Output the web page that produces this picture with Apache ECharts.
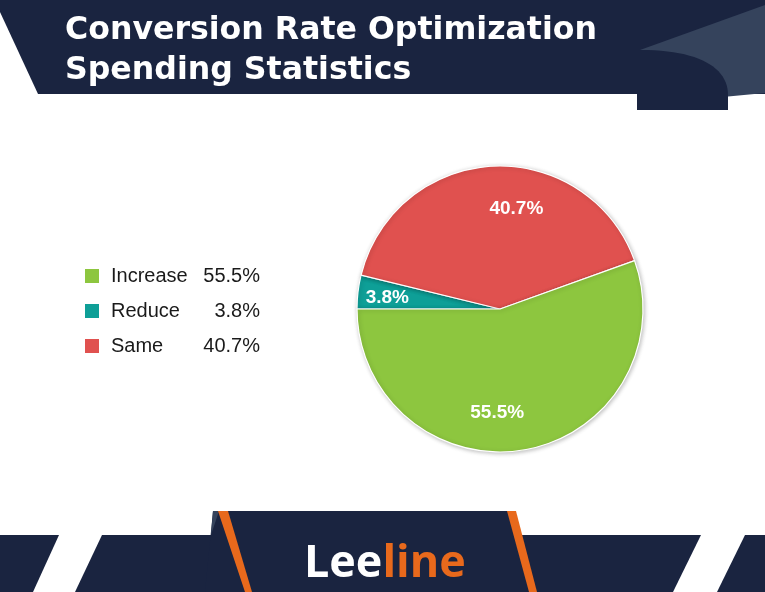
<!DOCTYPE html>
<html>
<head>
<meta charset="utf-8">
<script src="https://cdn.jsdelivr.net/npm/echarts@6/dist/echarts.min.js"></script>
<style>
html,body{margin:0;padding:0;background:#fff;}
#chart{width:765px;height:592px;}
</style>
</head>
<body>
<div id="chart"></div>
<script>
// ---- data ----
const titleLines = ['Conversion Rate Optimization', 'Spending Statistics'];
const categories = ['Increase', 'Reduce', 'Same'];
const values = [55.5, 3.8, 40.7];
const brandWhite = 'Lee';
const brandOrange = 'line';

// ---- style ----
const colors = {Increase: '#8DC63F', Reduce: '#0E9F97', Same: '#E0514F'};
const NAVY = '#1A2440';
const SLATE = '#35435C';
const ORANGE = '#E8691C';
const pieOrder = ['Reduce', 'Same', 'Increase'];
const labelNudge = {Increase: [-21, 0], Same: [22, 5], Reduce: [2, 3]};
const PIE_CX = 500, PIE_CY = 309, PIE_R = 143;

const pieData = pieOrder.map(n => ({
  name: n,
  value: values[categories.indexOf(n)],
  itemStyle: {color: colors[n]}
}));

// decorative curved header tab (cubic bezier sampled into a polygon)
function bezierPts(p0, p1, p2, p3, steps) {
  const pts = [];
  for (let i = 0; i <= steps; i++) {
    const t = i / steps, u = 1 - t;
    pts.push([
      u*u*u*p0[0] + 3*u*u*t*p1[0] + 3*u*t*t*p2[0] + t*t*t*p3[0],
      u*u*u*p0[1] + 3*u*u*t*p1[1] + 3*u*t*t*p2[1] + t*t*t*p3[1]
    ]);
  }
  return pts;
}
const tabPts = [[637, 50]].concat(bezierPts([640, 50], [700, 50], [728, 68], [728, 95], 24)).concat([[728, 110], [637, 110]]);

const chart = echarts.init(document.getElementById('chart'), null, {renderer: 'canvas'});

const option = {
  backgroundColor: '#ffffff',
  animation: false,
  legend: {
    orient: 'vertical',
    left: 83,
    top: 266,
    padding: 0,
    data: categories,
    icon: 'rect',
    itemWidth: 16,
    itemHeight: 16,
    itemGap: 15,
    selectedMode: false,
    formatter: function (name) {
      const v = values[categories.indexOf(name)];
      return '{n|' + name + '}{v|' + v.toFixed(1) + '%}';
    },
    textStyle: {
      padding: [0, 0, 0, 6],
      rich: {
        n: {fontFamily: 'Liberation Sans, Arial, sans-serif', fontSize: 20, color: '#1a1a1a', width: 92, lineHeight: 22},
        v: {fontFamily: 'Liberation Sans, Arial, sans-serif', fontSize: 20, color: '#1a1a1a', width: 57, align: 'right', lineHeight: 22}
      }
    }
  },
  series: [{
    type: 'pie',
    center: [PIE_CX, PIE_CY],
    radius: [0, PIE_R],
    startAngle: 180,
    clockwise: true,
    silent: true,
    data: pieData,
    itemStyle: {
      borderColor: '#ffffff',
      borderWidth: 1.2,
      shadowBlur: 4,
      shadowColor: 'rgba(0,0,0,0.25)',
      shadowOffsetX: 1,
      shadowOffsetY: 1
    },
    label: {
      show: true,
      position: 'inside',
      formatter: p => p.value.toFixed(1) + '%',
      color: '#ffffff',
      fontFamily: 'Liberation Sans, Arial, sans-serif',
      fontWeight: 'bold',
      fontSize: 19
    },
    labelLine: {show: false},
    labelLayout: function (params) {
      const r = params.labelRect;
      const cx = r.x + r.width / 2;
      const cy = r.y + r.height / 2;
      const name = pieOrder[params.dataIndex];
      const v = values[categories.indexOf(name)];
      const k = v < 10 ? 1.55 : 1.42;
      const nudge = labelNudge[name];
      return {dx: (k - 1) * (cx - PIE_CX) + nudge[0], dy: (k - 1) * (cy - PIE_CY) + nudge[1]};
    }
  }],
  graphic: [
    // header
    {type: 'polygon', z: 1, shape: {points: [[0, 0], [765, 0], [765, 94], [38, 94], [0, 12]]}, style: {fill: NAVY}},
    {type: 'polygon', z: 2, shape: {points: [[640, 50], [765, 5], [765, 93], [728, 96.5], [640, 96.5]]}, style: {fill: SLATE}},
    {type: 'polygon', z: 3, shape: {points: tabPts}, style: {fill: NAVY}},
    {type: 'text', z: 4, x: 65, y: 31, style: {text: titleLines[0], fill: '#fff', verticalAlign: 'middle', font: 'bold 31.6px "DejaVu Sans", Verdana, sans-serif'}},
    {type: 'text', z: 4, x: 65, y: 70.5, style: {text: titleLines[1], fill: '#fff', verticalAlign: 'middle', font: 'bold 31.6px "DejaVu Sans", Verdana, sans-serif'}},
    // footer
    {type: 'polygon', z: 1, shape: {points: [[0, 535], [59, 535], [33, 592], [0, 592]]}, style: {fill: NAVY}},
    {type: 'polygon', z: 1, shape: {points: [[102, 535], [240, 535], [240, 592], [75, 592]]}, style: {fill: NAVY}},
    {type: 'polygon', z: 1, shape: {points: [[213, 511], [511, 511], [533, 592], [205, 592]]}, style: {fill: NAVY}},
    {type: 'polygon', z: 2, shape: {points: [[213, 511], [219, 511], [211, 535]]}, style: {fill: SLATE}},
    {type: 'polygon', z: 1, shape: {points: [[500, 535], [701, 535], [673, 592], [500, 592]]}, style: {fill: NAVY}},
    {type: 'polygon', z: 1, shape: {points: [[745, 535], [765, 535], [765, 592], [717, 592]]}, style: {fill: NAVY}},
    {type: 'polygon', z: 3, shape: {points: [[218, 511], [228, 511], [252, 592], [245, 592]]}, style: {fill: ORANGE}},
    {type: 'polygon', z: 3, shape: {points: [[507, 511], [516, 511], [537, 592], [529, 592]]}, style: {fill: ORANGE}},
    {type: 'text', z: 4, x: 304, y: 564, scaleX: 1.02, style: {
      text: '{w|' + brandWhite + '}{o|' + brandOrange + '}',
      verticalAlign: 'middle',
      rich: {
        w: {fill: '#ffffff', font: 'bold 44px "Open Sans", sans-serif'},
        o: {fill: ORANGE, font: 'bold 44px "Open Sans", sans-serif'}
      }
    }}
  ]
};
chart.setOption(option);
</script>
</body>
</html>
